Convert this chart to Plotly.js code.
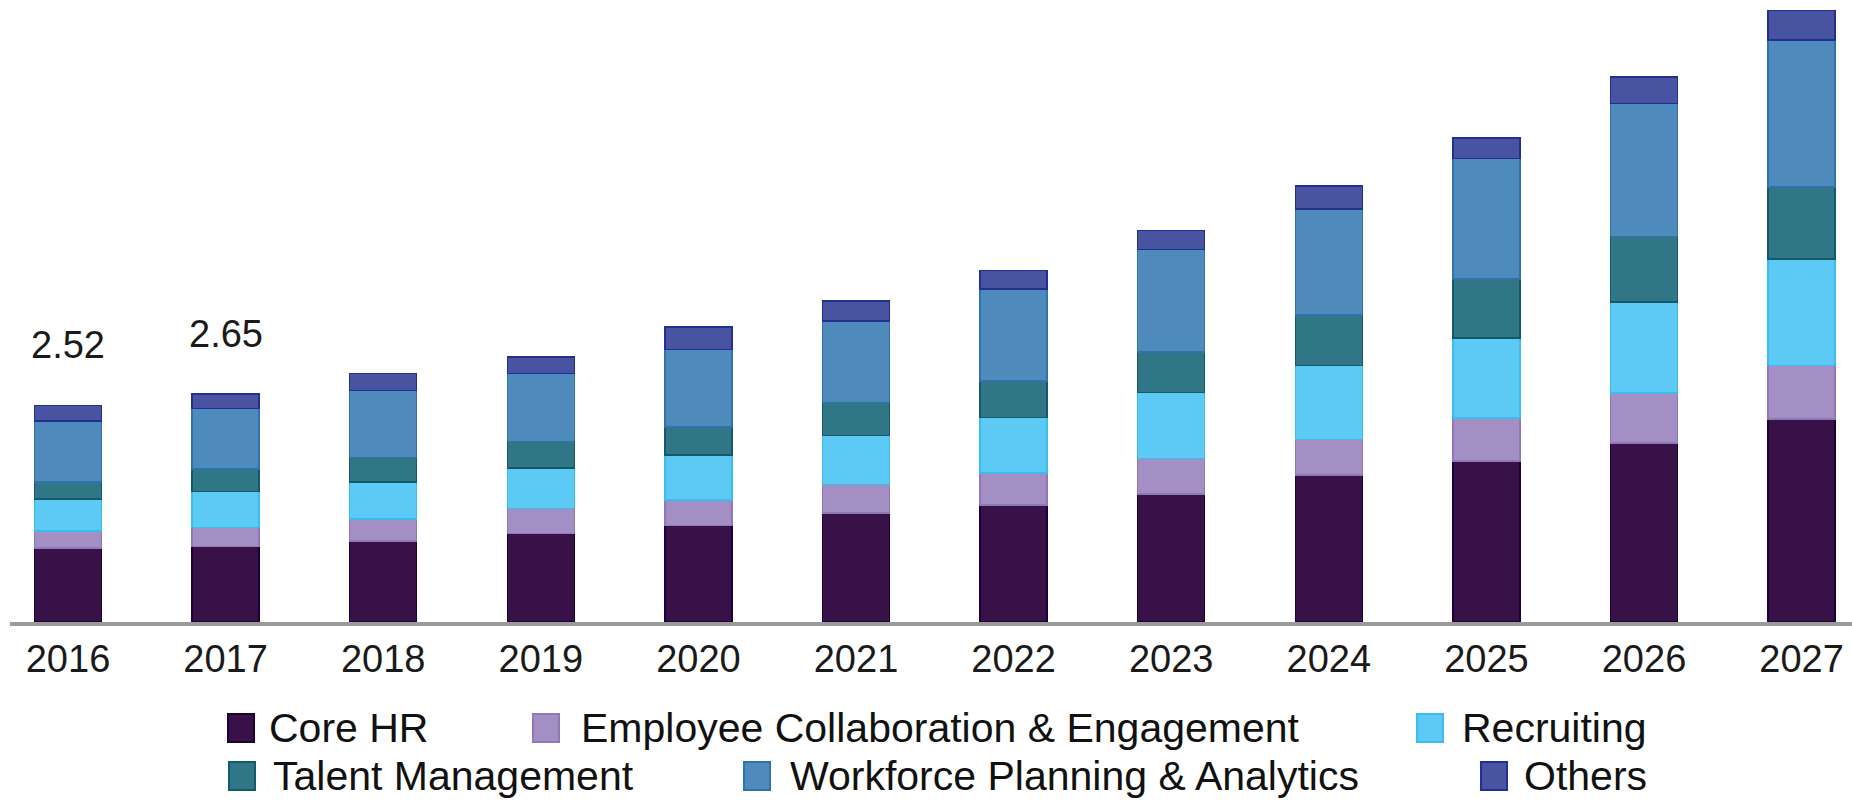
<!DOCTYPE html>
<html>
<head>
<meta charset="utf-8">
<script src="https://cdn.plot.ly/plotly-3.0.1.min.js"></script>
<style>
  html, body { margin: 0; padding: 0; background: #ffffff; }
  #chart { width: 1852px; height: 803px; }
</style>
</head>
<body>
<div id="chart"></div>
<script>
// ---- data (values in USD billion) ----
const years = ['2016','2017','2018','2019','2020','2021','2022','2023','2024','2025','2026','2027'];
const seriesNames = ['Core HR','Employee Collaboration & Engagement','Recruiting','Talent Management','Workforce Planning & Analytics','Others'];
const coreHR     = [0.86,0.88,0.94,1.03,1.12,1.27,1.36,1.49,1.71,1.87,2.08,2.36];
const employee   = [0.20,0.22,0.26,0.29,0.30,0.33,0.37,0.41,0.41,0.50,0.58,0.62];
const recruiting = [0.37,0.42,0.43,0.47,0.52,0.57,0.65,0.77,0.86,0.93,1.06,1.24];
const talent     = [0.20,0.26,0.28,0.31,0.33,0.38,0.42,0.47,0.59,0.69,0.76,0.84];
const workforce  = [0.71,0.70,0.78,0.79,0.90,0.95,1.07,1.19,1.23,1.40,1.55,1.71];
const others     = [0.18,0.17,0.20,0.19,0.26,0.23,0.22,0.22,0.27,0.24,0.31,0.34];
const totalLabels = ['2.52','2.65'];

// ---- styles ----
const fillColors = ['#371148','#a48fc4','#5ccaf5','#307686','#4f8abc','#4853a2'];
const edgeColors = ['#1f0032','#8f78b6','#38bdee','#12596a','#2f73ae','#22318f'];
const W = 1852, H = 803;
const plotLeft = 10, baseY = 622, pxPerUnit = 86;
const FONT = '"Liberation Sans", Arial, sans-serif';

const allSeries = [coreHR, employee, recruiting, talent, workforce, others];

const traces = allSeries.map((vals, i) => ({
  type: 'bar',
  name: seriesNames[i],
  x: years,
  y: vals,
  marker: { color: fillColors[i], line: { color: edgeColors[i], width: 1.5 } },
  showlegend: false,
  hoverinfo: 'x+y+name'
}));

// totals for the value labels
const totals = years.map((_, j) => allSeries.reduce((s, arr) => s + arr[j], 0));

const annotations = totalLabels.map((t, j) => ({
  x: j, y: totals[j], xref: 'x', yref: 'y',
  text: t, showarrow: false, yanchor: 'middle', yshift: 60,
  font: { family: FONT, size: 38, color: '#1a1a1a' }
}));

// manual legend (large square swatches)
const legendItems = [
  { sx: 228, tx: 267, cy: 728 },
  { sx: 533, tx: 579, cy: 728 },
  { sx: 1417, tx: 1460, cy: 728 },
  { sx: 229, tx: 271, cy: 776 },
  { sx: 744, tx: 788, cy: 776 },
  { sx: 1481, tx: 1522, cy: 776 }
];
const shapes = [];
legendItems.forEach((it, i) => {
  shapes.push({
    type: 'rect', xref: 'paper', yref: 'paper',
    x0: it.sx / W, x1: (it.sx + 26) / W,
    y0: 1 - (it.cy + 14) / H, y1: 1 - (it.cy - 14) / H,
    fillcolor: fillColors[i], line: { color: edgeColors[i], width: 2 }
  });
  annotations.push({
    x: it.tx / W, y: 1 - it.cy / H, xref: 'paper', yref: 'paper',
    xanchor: 'left', yanchor: 'middle', showarrow: false,
    text: seriesNames[i],
    font: { family: FONT, size: 41, color: '#111111' }
  });
});

const catW = 157.6;
const layout = {
  width: W, height: H,
  margin: { l: 0, r: 0, t: 0, b: 0, pad: 0 },
  paper_bgcolor: '#ffffff', plot_bgcolor: '#ffffff',
  barmode: 'stack',
  bargap: 0.575,
  showlegend: false,
  xaxis: {
    type: 'category',
    domain: [plotLeft / W, 1],
    range: [-(68 - plotLeft) / catW, (W - 68) / catW],
    showline: true, linecolor: '#9a9a9a', linewidth: 4,
    showgrid: false, zeroline: false,
    ticks: '',
    tickfont: { family: FONT, size: 38, color: '#1a1a1a' },
    automargin: false, fixedrange: true
  },
  yaxis: {
    domain: [(H - baseY) / H, 1],
    range: [0, baseY / pxPerUnit],
    showticklabels: false, showline: false, ticks: '',
    showgrid: false, zeroline: false,
    automargin: false, fixedrange: true
  },
  shapes: shapes,
  annotations: annotations
};

Plotly.newPlot('chart', traces, layout, { displayModeBar: false, staticPlot: true });
</script>
</body>
</html>
